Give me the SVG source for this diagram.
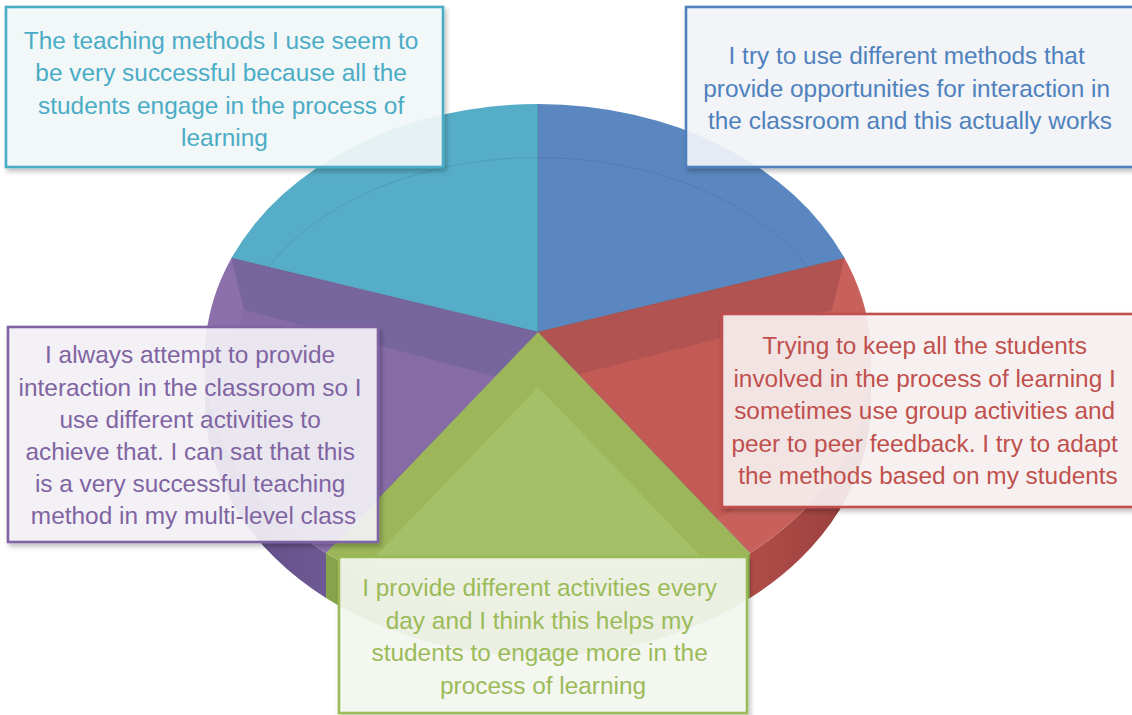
<svg xmlns="http://www.w3.org/2000/svg" width="1132" height="715" viewBox="0 0 1132 715">
  <defs>
    <linearGradient id="sideRed" x1="0" y1="0" x2="1" y2="0">
      <stop offset="0" stop-color="#b04c49"/>
      <stop offset="0.6" stop-color="#a04441"/>
      <stop offset="1" stop-color="#8a3a38"/>
    </linearGradient>
    <linearGradient id="sidePurple" x1="0" y1="0" x2="1" y2="0">
      <stop offset="0" stop-color="#5f4c84"/>
      <stop offset="1" stop-color="#6d5993"/>
    </linearGradient>
    <filter id="shadow" x="-5%" y="-5%" width="115%" height="120%">
      <feDropShadow dx="2" dy="3" stdDeviation="2.5" flood-color="#000" flood-opacity="0.28"/>
    </filter>
    <style>
      .box { stroke-width: 2.6; filter: url(#shadow); fill-opacity: 0.9; }
      .lbl { font-family: "Liberation Sans", Arial, sans-serif; font-size: 24.4px; text-anchor: middle; }
      .seam { fill: none; stroke: #2d3a55; stroke-opacity: 0.22; stroke-width: 1; }
      .bevel { fill: none; stroke: #2d3a55; stroke-opacity: 0.15; stroke-width: 1; }
    </style>
  </defs>

  <rect width="1132" height="715" fill="#ffffff"/>

  <!-- 3D pie: side walls -->
  <g id="pie-sides">
    <path d="M205,357.5 A333,253.5 0 0 0 326,553 L326,598 A333,253.5 0 0 1 205,402.5 Z" fill="url(#sidePurple)"/>
    <path d="M326,553 A333,253.5 0 0 0 750,553 L750,598 A333,253.5 0 0 1 326,598 Z" fill="#86a44a"/>
    <path d="M750,553 A333,253.5 0 0 0 871,357.5 L871,402.5 A333,253.5 0 0 1 750,598 Z" fill="url(#sideRed)"/>
  </g>

  <!-- 3D pie: top faces -->
  <g id="seg-cyan">
    <path d="M538,332 L231.5,258 A333,253.5 0 0 1 538,104 Z" fill="#56adc7"/>
    <path class="bevel" d="M269,266.5 A303,200 0 0 1 538,157.5"/>
  </g>
  <g id="seg-blue">
    <path d="M538,332 L538,104 A333,253.5 0 0 1 844.5,258 Z" fill="#5a87bf"/>
    <path class="bevel" d="M538,157.5 A303,200 0 0 1 807,266.5"/>
  </g>
  <g id="seg-red">
    <path d="M538,332 L844.5,258 A333,253.5 0 0 1 750,553 Z" fill="#c8615c"/>
    <path d="M538,332 L844.5,258 L832,310 L578.8,374.5 Z" fill="#b05351"/>
    <path d="M832,310 L578.8,374.5 L717,518.7 A303,200 0 0 0 832,310 Z" fill="#c35a56"/>
  </g>
  <g id="seg-purple">
    <path d="M538,332 L326,553 A333,253.5 0 0 1 231.5,258 Z" fill="#8c70ac"/>
    <path d="M538,332 L231.5,258 L244,310 L495,376.5 Z" fill="#77659e"/>
    <path d="M244,310 L495,376.5 L359,518.7 A303,200 0 0 1 244,310 Z" fill="#876ba7"/>
  </g>
  <g id="seg-green">
    <path d="M538,332 L750,553 A333,253.5 0 0 1 326,553 Z" fill="#9cb659"/>
    <path d="M538,387 L712,568 L364,568 Z" fill="#a5c167"/>
  </g>

  <!-- seams between segments -->
  <g id="connectors">
    <path class="seam" d="M538,332 L538,104"/>
    <path class="seam" d="M538,332 L231.5,258"/>
    <path class="seam" d="M538,332 L844.5,258"/>
    <path class="seam" d="M538,332 L326,553"/>
    <path class="seam" d="M538,332 L750,553"/>
  </g>

  <!-- labels -->
  <g id="node-cyan">
    <rect class="box" x="6" y="7" width="437" height="160" fill="#f4f9fb" stroke="#4bacc6"/>
    <text class="lbl" fill="#4bacc6">
      <tspan x="224.5" y="48.5">The teaching methods I use seem to</tspan>
      <tspan x="224.5" y="81">be very successful because all the</tspan>
      <tspan x="224.5" y="113.5">students engage in the process of</tspan>
      <tspan x="224.5" y="146">learning</tspan>
    </text>
  </g>
  <g id="node-blue">
    <rect class="box" x="686" y="7" width="450" height="160" fill="#f4f6fa" stroke="#4f81bd"/>
    <text class="lbl" fill="#4f81bd">
      <tspan x="910" y="64">I try to use different methods that</tspan>
      <tspan x="910" y="96.7">provide opportunities for interaction in</tspan>
      <tspan x="910" y="129.4">the classroom and this actually works</tspan>
    </text>
  </g>
  <g id="node-purple">
    <rect class="box" x="8" y="327" width="370" height="215" fill="#f5f3f8" stroke="#8064a2"/>
    <text class="lbl" fill="#8064a2">
      <tspan x="193.5" y="363.3">I always attempt to provide</tspan>
      <tspan x="193.5" y="395.5">interaction in the classroom so I</tspan>
      <tspan x="193.5" y="427.6">use different activities to</tspan>
      <tspan x="193.5" y="459.8">achieve that. I can sat that this</tspan>
      <tspan x="193.5" y="491.9">is a very successful teaching</tspan>
      <tspan x="193.5" y="524">method in my multi-level class</tspan>
    </text>
  </g>
  <g id="node-red">
    <rect class="box" x="722" y="314" width="414" height="193" fill="#f9f2f2" stroke="#c0504d"/>
    <text class="lbl" fill="#c0504d">
      <tspan x="928" y="354.3">Trying to keep all the students</tspan>
      <tspan x="928" y="386.8">involved in the process of learning I</tspan>
      <tspan x="928" y="419.3">sometimes use group activities and</tspan>
      <tspan x="928" y="451.8">peer to peer feedback. I try to adapt</tspan>
      <tspan x="928" y="484.3">the methods based on my students</tspan>
    </text>
  </g>
  <g id="node-green">
    <rect class="box" x="339" y="557" width="408" height="156" fill="#f6f8f2" stroke="#9bbb59"/>
    <text class="lbl" fill="#9bbb59">
      <tspan x="543" y="595.7">I provide different activities every</tspan>
      <tspan x="543" y="628.5">day and I think this helps my</tspan>
      <tspan x="543" y="661.2">students to engage more in the</tspan>
      <tspan x="543" y="694">process of learning</tspan>
    </text>
  </g>
</svg>
